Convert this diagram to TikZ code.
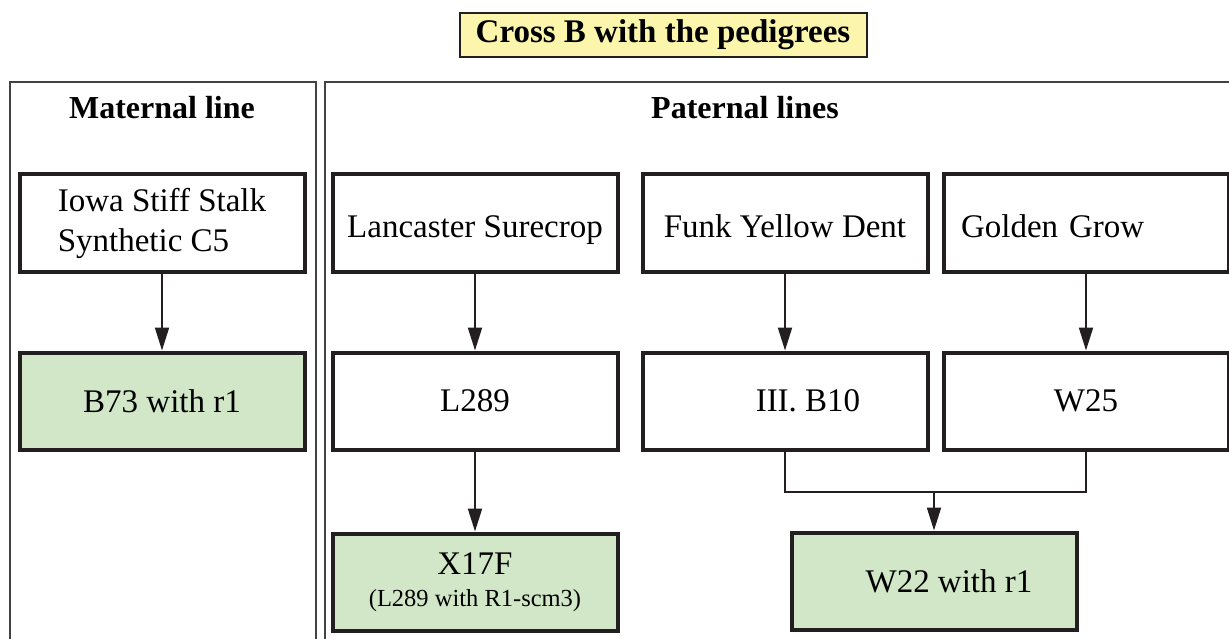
\documentclass[tikz,border=0pt]{standalone}
\usepackage{fontspec}
\setmainfont{Liberation Serif}
\usetikzlibrary{arrows.meta}

\definecolor{inkdark}{HTML}{231F20}
\definecolor{titleyellow}{HTML}{FBF6AC}
\definecolor{linegreen}{HTML}{D1E7C7}

\tikzset{
    stock/.style={draw=inkdark, line width=4pt, fill=white, minimum width=285pt,
        minimum height=97pt, align=left, font=\fontsize{33}{40}\selectfont},
    source/.style={stock, text height=30pt, text depth=0pt},
    bred/.style={stock, fill=linegreen},
    panel/.style={draw=inkdark!85, line width=1.3pt},
    link/.style={draw=inkdark, line width=2pt},
    arrow/.style={link, -{Triangle[length=23pt,width=14pt]}}
}

\begin{document}
\begin{tikzpicture}[x=1pt,y=-1pt]
    % Page frame (pixel grid of the reference)
    \clip (0,0) rectangle (1229,639);
    \useasboundingbox (0,0) rectangle (1229,639);

    % Title
    \node[draw=inkdark, line width=2pt, fill=titleyellow, minimum width=407pt,
        minimum height=44pt, font=\fontsize{33}{36}\selectfont\bfseries]
        (title) at (663,35) {Cross B with the pedigrees};

    % Two panels
    \draw[panel] (10,82) rectangle (316,660);
    \draw[panel] (325,82) rectangle (1250,660);
    \node[font=\fontsize{32}{36}\selectfont\bfseries] (mhead) at (162,108) {Maternal line};
    \node[font=\fontsize{32}{36}\selectfont\bfseries] (phead) at (745,108) {Paternal lines};

    % Maternal line
    \node[stock] (iowa) at (162,223) {Iowa Stiff Stalk\\Synthetic C5};
    \node[bred] (b73) at (162,401) {B73 with r1};
    \draw[arrow] (iowa) -- (b73);

    % Paternal lines: source populations
    \node[source] (lanc) at (475,223) {Lancaster Surecrop};
    \node[source] (funk) at (785,223) {Funk Yellow Dent};
    \node[source, text width=250pt, inner xsep=17.5pt] (golden) at (1086,223) {Golden Grow};

    % Inbred lines
    \node[stock] (l289) at (475,401) {L289};
    \node[stock] (b10) at (785,401) {\hspace*{46pt}III. B10};
    \node[stock] (w25) at (1086,401) {W25};
    \draw[arrow] (lanc) -- (l289);
    \draw[arrow] (funk) -- (b10);
    \draw[arrow] (golden) -- (w25);

    % Lines with r1
    \node[bred, align=center, font=\fontsize{33}{34}\selectfont] (x17f) at (475,582)
        {X17F\\[-2pt]{\fontsize{24.5}{28}\selectfont (L289 with R1-scm3)}};
    \node[bred] (w22) at (934,581) {\hspace*{30pt}W22 with r1};
    \draw[arrow] (l289) -- (x17f);

    % Merge of III. B10 and W25
    \coordinate (join) at (934,492);
    \draw[link] (b10.south) |- (join) -| (w25.south);
    \draw[arrow] (join) -- (w22.north);
\end{tikzpicture}
\end{document}
